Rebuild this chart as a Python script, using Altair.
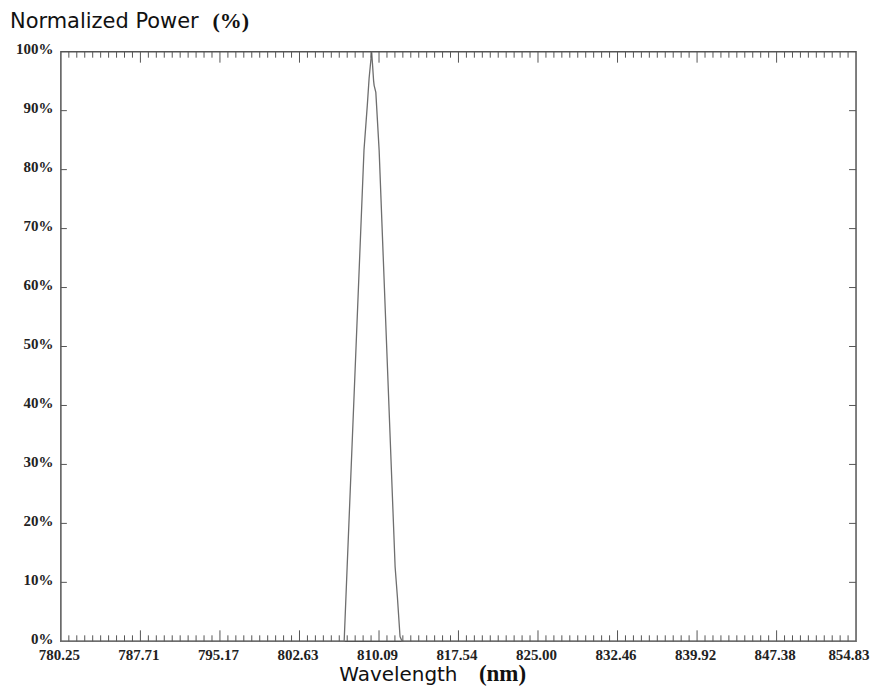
import altair as alt
import pandas as pd
import numpy as np

# ---- data ----
wavelength = [780.25, 806.82, 807.10, 808.68, 808.99, 809.16, 809.40, 809.47,
              809.58, 809.63, 809.79, 809.86, 810.10, 811.60, 811.81, 812.06,
              812.25, 854.83]
power = [0, 0, 12.6, 83.3, 90.9, 95.5, 100, 98.1,
         95.1, 94.3, 93.1, 90.9, 83.3, 12.6, 7.6, 0.8,
         0, 0]
x_ticks = [780.25, 787.71, 795.17, 802.63, 810.09, 817.54, 825.00,
           832.46, 839.92, 847.38, 854.83]
y_ticks = [0, 10, 20, 30, 40, 50, 60, 70, 80, 90, 100]
y_title = ["Normalized Power", "(%)"]
x_title = ["Wavelength", "(nm)"]

W, H = 797, 591

minor_ticks = []
for a, b in zip(x_ticks[:-1], x_ticks[1:]):
    minor_ticks.extend(list(np.linspace(a, b, 11)[1:-1]))

df = pd.DataFrame({"wavelength": wavelength, "power": power})
df_major = pd.DataFrame({"wavelength": x_ticks[1:-1]})
df_minor = pd.DataFrame({"wavelength": minor_ticks})
df_y = pd.DataFrame({"power": y_ticks[1:-1]})

xscale = alt.Scale(domain=[x_ticks[0], x_ticks[-1]], nice=False, zero=False)
yscale = alt.Scale(domain=[0, 100], nice=False)

lab_font = "Liberation Serif"
tick_color = "#555555"
last_test = "datum.value > %f" % (x_ticks[-1] - 0.5)

xaxis = alt.Axis(values=x_ticks, labelExpr="format(datum.value, '.2f')",
                 title=None, tickSize=0, domain=False, grid=False,
                 labelFont=lab_font, labelFontWeight="bold",
                 labelFontSize=15, labelColor="#222222",
                 labelPadding=6, labelFlush=False,
                 labelAlign={"condition": {"test": last_test, "value": "right"},
                             "value": "center"},
                 labelOffset={"condition": {"test": last_test, "value": 13},
                              "value": -2})
yaxis = alt.Axis(values=y_ticks, labelExpr="datum.value + '%'",
                 title=None, tickSize=0, domain=False, grid=False,
                 labelFont=lab_font, labelFontWeight="bold",
                 labelFontSize=15, labelColor="#222222",
                 labelPadding=8, labelFlush=False, labelOffset=-3)

X = alt.X("wavelength:Q", scale=xscale, axis=xaxis)
Y = alt.Y("power:Q", scale=yscale, axis=yaxis)

line = alt.Chart(df).mark_line(color="#6e6e6e", strokeWidth=1.3).encode(x=X, y=Y)

def xrule(data, y1, y2):
    return alt.Chart(data).mark_rule(color=tick_color, strokeWidth=1).encode(
        x=X, y=alt.value(y1), y2=alt.value(y2))

def yrule(x1, x2):
    return alt.Chart(df_y).mark_rule(color=tick_color, strokeWidth=1).encode(
        y=Y, x=alt.value(x1), x2=alt.value(x2))

ticks = [
    xrule(df_major, H, H - 11), xrule(df_minor, H, H - 6),
    xrule(df_major, 0, 11), xrule(df_minor, 0, 6),
    yrule(0, 6), yrule(W, W - 7),
]

def label(text, x, y, font, size, weight="normal"):
    return alt.Chart(pd.DataFrame({"s": [text]})).mark_text(
        align="left", baseline="alphabetic", font=font, fontSize=size,
        fontWeight=weight, color="#111111").encode(
        text="s:N", x=alt.value(x), y=alt.value(y))

texts = [
    label(y_title[0], -51, -24, "DejaVu Sans", 21),
    label(y_title[1], 152, -24, lab_font, 22, "bold"),
    label(x_title[0], 279, H + 40, "DejaVu Sans", 20),
    label(x_title[1], 419, H + 40, lab_font, 23, "bold"),
]

chart = alt.layer(line, *ticks, *texts).properties(
    width=W, height=H,
    autosize=alt.AutoSizeParams(type="none"),
    padding={"left": 53, "top": 43, "right": 14, "bottom": 48},
    background="white",
).configure_view(stroke="#555555", strokeWidth=1.5)

chart.save("out.html", embed_options={"renderer": "svg", "actions": False})
